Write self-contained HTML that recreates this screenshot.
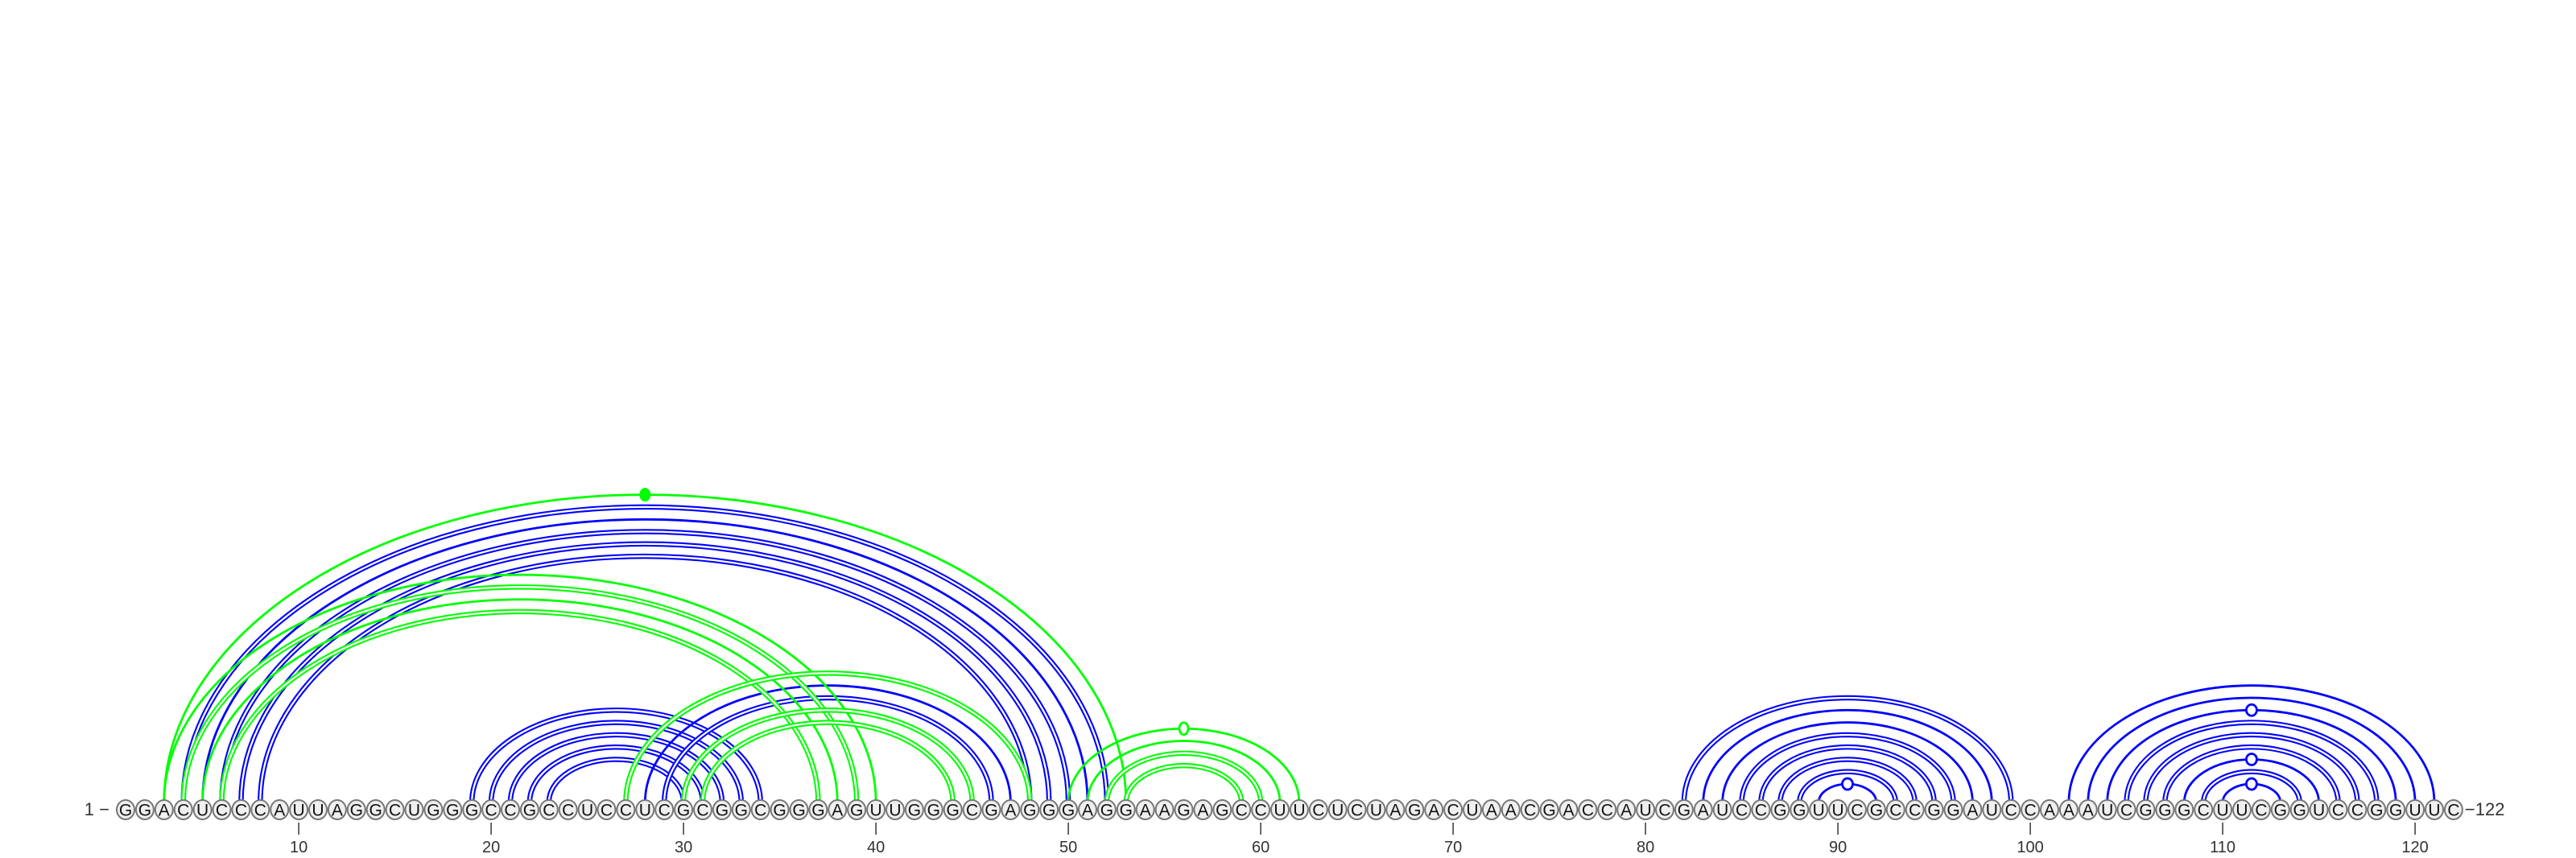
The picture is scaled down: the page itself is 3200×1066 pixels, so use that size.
<!DOCTYPE html>
<html><head><meta charset="utf-8">
<style>
html,body{margin:0;padding:0;background:#fff;}
svg{display:block;}
text{font-family:"Liberation Sans",sans-serif;}
</style></head>
<body>
<svg id="chart" width="3200" height="1066" viewBox="0 0 3200 1066" xmlns="http://www.w3.org/2000/svg">
<g id="arcs"></g>
<g id="marks"></g>
<g id="bases"></g>
<g id="ticks"></g>
</svg>
<script>
const sequence = "GGACUCCCAUUAGGCUGGGCCGCCUCCUCGCGGCGGGAGUUGGGCGAGGGAGGAAGAGCCUUCUCUAGACUAACGACCAUCGAUCCGGUUCGCCGGAUCCAAAUCGGGCUUCGGUCCGGUUC";
const blueStart = [4,5,6,7,8, 19,20,21,22,23, 28,29, 82,83,84,85,86,87,88,89, 102,103,104,105,106,107,108,109,110];
const blueEnd   = [52,51,50,49,48, 34,33,32,31,30, 47,46, 99,98,97,96,95,94,93,92, 121,120,119,118,117,116,115,114,113];
const blueDouble= [1,0,1,1,1, 1,1,1,1,1, 0,1, 1,0,0,1,1,1,1,0, 0,0,0,1,1,1,0,1,0];
const greenStart = [3, 3,4,5,6, 27,30,31, 50,51,52,53];
const greenEnd   = [53, 40,39,38,37, 48,45,44, 62,61,60,59];
const greenDouble= [0, 0,1,0,1, 1,1,1, 0,0,1,1];
const openMarkerStart = [89,104,108,110];
const openMarkerEnd   = [92,119,115,113];
const openMarkerColor = ["#0000ff","#0000ff","#0000ff","#0000ff"];
const greenOpenStart = [50];
const greenOpenEnd = [62];
const filledMarkerStart = [3];
const filledMarkerEnd = [53];
const tickValues = [10,20,30,40,50,60,70,80,90,100,110,120];

const NS = "http://www.w3.org/2000/svg";
const X0 = 156, STEP = 23.9, BASE_Y = 1006, ARC_Y = 997, RATIO = 0.64;
function xPos(i){ return X0 + (i-1)*STEP; }
function mk(tag, attrs, parent){ const e=document.createElementNS(NS,tag); for(const k in attrs) e.setAttribute(k,attrs[k]); parent.appendChild(e); return e; }

const arcs = document.getElementById('arcs');
function drawArc(i,j,color,dbl,name){
  const x1=xPos(i), x2=xPos(j), rx=(x2-x1)/2, ry=rx*RATIO;
  const d=`M${x1} ${ARC_Y} A${rx} ${ry} 0 0 1 ${x2} ${ARC_Y}`;
  const g=mk('g',{},arcs);
  
  
  if(dbl){
    mk('path',{d:d,fill:'none',stroke:color,'stroke-width':6.5},g);
    mk('path',{d:d,fill:'none',stroke:'#fff','stroke-width':2.3},g);
  } else {
    mk('path',{d:d,fill:'none',stroke:color,'stroke-width':2.8},g);
  }
}
for(let k=0;k<blueStart.length;k++) drawArc(blueStart[k],blueEnd[k],'#0000ff',blueDouble[k],'blue-arc-'+blueStart[k]+'-'+blueEnd[k]);
for(let k=0;k<greenStart.length;k++) drawArc(greenStart[k],greenEnd[k],'#00ff00',greenDouble[k],'green-arc-'+greenStart[k]+'-'+greenEnd[k]);

const marks = document.getElementById('marks');
function arcTop(i,j){ const rx=(xPos(j)-xPos(i))/2; return [ (xPos(i)+xPos(j))/2, ARC_Y - rx*RATIO ]; }
for(let k=0;k<openMarkerStart.length;k++){
  const p=arcTop(openMarkerStart[k],openMarkerEnd[k]);
  const c=mk('ellipse',{cx:p[0],cy:p[1],rx:6.5,ry:7,fill:'#fff',stroke:openMarkerColor[k],'stroke-width':2.8},marks);
  
  
}
for(let k=0;k<greenOpenStart.length;k++){
  const p=arcTop(greenOpenStart[k],greenOpenEnd[k]);
  const c=mk('ellipse',{cx:p[0],cy:p[1],rx:5.5,ry:7.5,fill:'#fff',stroke:'#00ff00','stroke-width':2.8},marks);
  
  
}
for(let k=0;k<filledMarkerStart.length;k++){
  const p=arcTop(filledMarkerStart[k],filledMarkerEnd[k]);
  const c=mk('ellipse',{cx:p[0],cy:p[1],rx:6.5,ry:8,fill:'#00ff00',stroke:'#00ff00','stroke-width':1},marks);
  
  
}

const bases = document.getElementById('bases');
for(let i=1;i<=sequence.length;i++){
  const g=mk('g',{},bases);
  
  
  mk('ellipse',{cx:xPos(i),cy:BASE_Y,rx:11,ry:12,fill:'#efefef',stroke:'#777','stroke-width':2},g);
  const t=mk('text',{x:xPos(i),y:BASE_Y+7.5,'text-anchor':'middle','font-size':21,fill:'#111'},g);
  t.textContent=sequence[i-1];
}
const startLbl=mk('text',{x:136,y:BASE_Y+7,'text-anchor':'end','font-size':22,fill:'#333'},bases);
startLbl.textContent='1 \u2212';


const endLbl=mk('text',{x:xPos(sequence.length)+14,y:BASE_Y+7,'text-anchor':'start','font-size':22,fill:'#333'},bases);
endLbl.textContent='\u2212'+sequence.length;



const ticks = document.getElementById('ticks');
for(const v of tickValues){
  const g=mk('g',{},ticks);
  
  
  mk('line',{x1:xPos(v),x2:xPos(v),y1:1022,y2:1037,stroke:'#444','stroke-width':1.6},g);
  const t=mk('text',{x:xPos(v),y:1059,'text-anchor':'middle','font-size':20,fill:'#333'},g);
  t.textContent=v;
}
</script>
</body></html>
